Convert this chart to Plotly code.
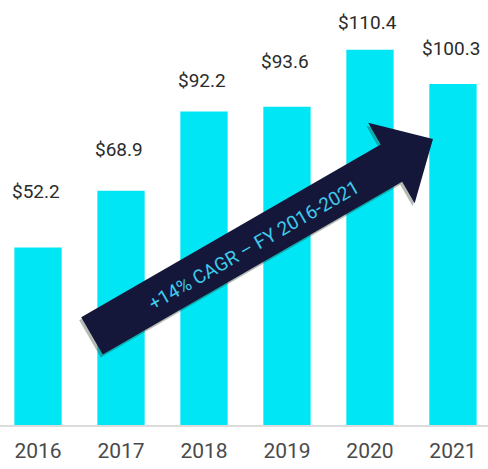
import numpy as np
import plotly.graph_objects as go

# Revenue by fiscal year ($)
years = ["2016", "2017", "2018", "2019", "2020", "2021"]
revenue = [52.2, 68.9, 92.2, 93.6, 110.4, 100.3]
value_labels = ["$52.2", "$68.9", "$92.2", "$93.6", "$110.4", "$100.3"]
cagr_text = "+14% CAGR \u2013 FY 2016-2021"

# Pixel gap between each value label's centre and its bar top
label_lift = [56, 41, 31, 45, 27, 35]

# Canvas / axis geometry
W, H = 488, 469
M_L, M_R, M_T, M_B = 0, 0, 0, 44
X_RANGE = (-0.458, 5.422)
Y_RANGE = (0, 125)
plot_w = W - M_L - M_R
plot_h = H - M_T - M_B
sx = plot_w / (X_RANGE[1] - X_RANGE[0])
sy = plot_h / (Y_RANGE[1] - Y_RANGE[0])


def to_px(x, y):
    return np.array([M_L + (x - X_RANGE[0]) * sx, M_T + (Y_RANGE[1] - y) * sy])


def to_data(p):
    return p[0] / sx + X_RANGE[0] - M_L / sx, Y_RANGE[1] - (p[1] - M_T) / sy


BAR = "#00E6F5"
NAVY = "#15173A"

xs = list(range(len(years)))

fig = go.Figure(
    go.Bar(
        x=xs,
        y=revenue,
        width=0.57,
        marker=dict(color=BAR, line=dict(width=0)),
        hoverinfo="skip",
    )
)

for x, v, lab, lift in zip(xs, revenue, value_labels, label_lift):
    fig.add_annotation(
        x=x, y=v, text=lab, showarrow=False, xref="x", yref="y",
        yanchor="middle", yshift=lift, xshift=-2,
        font=dict(family="Roboto", size=19, color="#2b2b2b"),
    )

# Growth arrow drawn in screen space along the trend from 2016 to 2021
tail = to_px(0.650, 26.2)
tip = to_px(4.759, 84.1)
shaft_w, head_w, head_len = 43, 93, 48
d = tip - tail
d = d / np.linalg.norm(d)
n = np.array([d[1], -d[0]])  # perpendicular
base = tip - d * head_len
pts = [
    tail + n * shaft_w / 2,
    base + n * shaft_w / 2,
    base + n * head_w / 2,
    tip,
    base - n * head_w / 2,
    base - n * shaft_w / 2,
    tail - n * shaft_w / 2,
]


def path_of(points, offset=(0, 0)):
    segs = []
    for i, p in enumerate(points):
        x, y = to_data(p + np.array(offset))
        segs.append(("M" if i == 0 else "L") + f"{x:.4f},{y:.4f}")
    return " ".join(segs) + " Z"


# soft drop shadow
fig.add_shape(type="path", path=path_of(pts, (-2, 3)), xref="x", yref="y",
              fillcolor="rgba(40,60,40,0.35)", line=dict(width=0), layer="above")
fig.add_shape(type="path", path=path_of(pts), xref="x", yref="y",
              fillcolor=NAVY, line=dict(width=0), layer="above")

ang = np.degrees(np.arctan2(d[1], d[0]))
tc = tail + (tip - tail) * 0.47 - n * 2
tx, ty = to_data(tc)
fig.add_annotation(
    x=tx, y=ty, text=cagr_text, showarrow=False, xref="x", yref="y",
    textangle=ang, font=dict(family="Roboto", size=19, color="#3FCBEA"),
)

fig.update_layout(
    width=W, height=H,
    margin=dict(l=M_L, r=M_R, t=M_T, b=M_B),
    paper_bgcolor="white", plot_bgcolor="white",
    showlegend=False,
    xaxis=dict(
        range=list(X_RANGE), tickvals=xs, ticktext=years,
        showgrid=False, zeroline=False, showline=True,
        linecolor="#dcdcdc", linewidth=2, ticks="",
        tickfont=dict(family="Roboto", size=21, color="#4a4a4a"),
        ticklabelstandoff=6, fixedrange=True,
    ),
    yaxis=dict(
        range=list(Y_RANGE), visible=False, showgrid=False,
        zeroline=False, fixedrange=True,
    ),
)

fig.write_html("out.html", config={"displayModeBar": False})
